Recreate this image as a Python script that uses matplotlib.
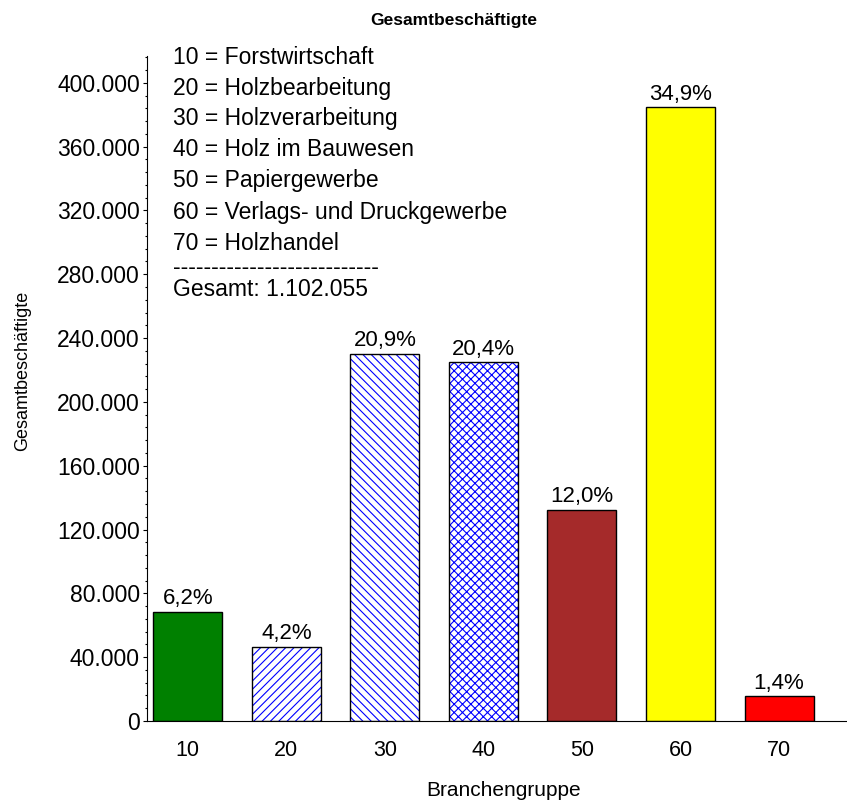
import matplotlib.pyplot as plt
from matplotlib.ticker import MultipleLocator, FuncFormatter

plt.rcParams['font.family'] = ['Liberation Sans', 'DejaVu Sans']
plt.rcParams['hatch.linewidth'] = 0.8

# Daten
gruppen = [10, 20, 30, 40, 50, 60, 70]
beschaeftigte = [68300, 46300, 230300, 224800, 132200, 384600, 15400]
anteile = ['6,2%', '4,2%', '20,9%', '20,4%', '12,0%', '34,9%', '1,4%']
legende = ['10 = Forstwirtschaft', '20 = Holzbearbeitung', '30 = Holzverarbeitung',
           '40 = Holz im Bauwesen', '50 = Papiergewerbe',
           '60 = Verlags- und Druckgewerbe', '70 = Holzhandel']
gesamt = '1.102.055'

farben = ['#008000', 'white', 'white', 'white', '#a52a2a', '#ffff00', '#ff0000']
muster = [None, '////', '\\\\\\\\', 'xxxx', None, None, None]

fig = plt.figure(figsize=(8.47, 8.02), dpi=100)
ax = fig.add_axes([0.1741, 0.101, 0.8259, 0.829])

for x, y, c, h in zip(gruppen, beschaeftigte, farben, muster):
    if h:
        ax.bar(x, y, width=7.0, color='white', edgecolor='#0000ff', hatch=h, linewidth=0)
        ax.bar(x, y, width=7.0, fill=False, edgecolor='black', linewidth=1.0)
    else:
        ax.bar(x, y, width=7.0, color=c, edgecolor='black', linewidth=1.0)

for x, y, t in zip(gruppen, beschaeftigte, anteile):
    ax.annotate(t, (x, y), xytext=(0, 2), textcoords='offset points',
                ha='center', va='bottom', fontsize=16)

ax.set_xlim(5.9, 76.9)
ax.set_ylim(0, 416700)
ax.set_xticks(gruppen)
ax.set_xticklabels([str(g) for g in gruppen], fontsize=15.5)
ax.tick_params(axis='x', length=0, pad=14)
ax.yaxis.set_major_locator(MultipleLocator(40000))
ax.yaxis.set_minor_locator(MultipleLocator(8000))
ax.yaxis.set_major_formatter(FuncFormatter(lambda v, p: f'{int(v):,}'.replace(',', '.')))
ax.tick_params(axis='y', which='major', length=3, pad=2.5, labelsize=16.5)
ax.tick_params(axis='y', which='minor', length=1.5, width=0.8)

ax.spines['top'].set_visible(False)
ax.spines['right'].set_visible(False)

# Beschriftung
fig.text(454 / 847, 1 - 20 / 802, 'Gesamtbeschäftigte', ha='center', va='center',
         fontsize=12.5, fontweight='bold')
fig.text(23 / 847, 1 - 371 / 802, 'Gesamtbeschäftigte', rotation=90,
         ha='center', va='center', fontsize=13)
fig.text(504 / 847, 1 - 790 / 802, 'Branchengruppe', ha='center', va='center', fontsize=15)

zeilen_y = [57, 88, 119, 150, 181, 212, 243]
for t, yy in zip(legende, zeilen_y):
    fig.text(173 / 847, 1 - yy / 802, t, ha='left', va='center', fontsize=16.5)
fig.text(173 / 847, 1 - 267 / 802, '-' * 27, ha='left', va='center', fontsize=16.5)
fig.text(173 / 847, 1 - 290 / 802, 'Gesamt: ' + gesamt, ha='left', va='center', fontsize=16.5)

fig.savefig('out.png', dpi=100)
